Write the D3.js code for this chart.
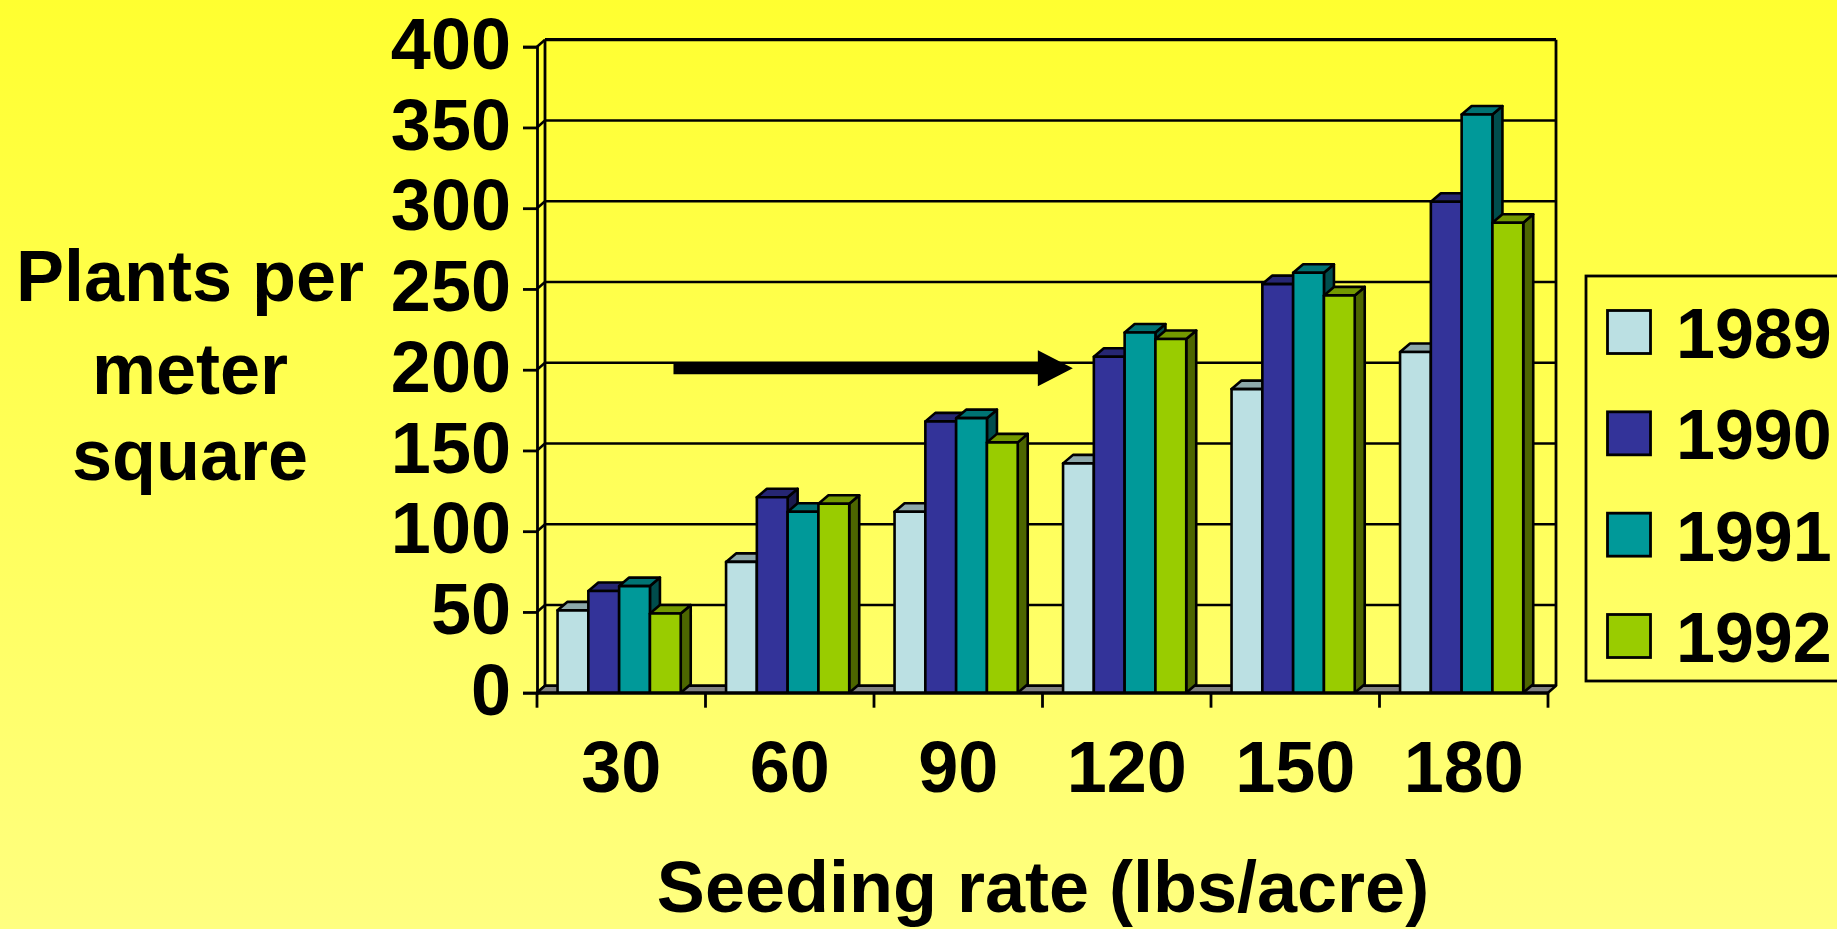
<!DOCTYPE html>
<html>
<head>
<meta charset="utf-8">
<script src="https://cdn.jsdelivr.net/npm/d3@7"></script>
<style>
  html, body { margin: 0; padding: 0; overflow: hidden; }
  svg { display: block; }
  text { font-family: "Liberation Sans", Arial, sans-serif; font-weight: bold; fill: #000; }
</style>
</head>
<body>
<svg id="chart" width="1837" height="929"></svg>
<script>
// Seeding rate categories (lbs/acre) and plant counts per year
const categories = ["30", "60", "90", "120", "150", "180"];
const years = ["1989", "1990", "1991", "1992"];
const plants1989 = [51, 81, 112, 142, 188, 211];
const plants1990 = [63, 121, 168, 208, 253, 304];
const plants1991 = [66, 112, 170, 223, 260, 358];
const plants1992 = [49, 117, 155, 219, 246, 291];
const yTicks = [0, 50, 100, 150, 200, 250, 300, 350, 400];
// Arrow annotation, in data units: level on the value axis and span in category units
const arrowLevel = 200;
const arrowFrom = 0.81;
const arrowTo = 3.18;

const seriesValues = [plants1989, plants1990, plants1991, plants1992];
const colors = ["#BBE0E3", "#333399", "#009999", "#99CC00"];

const W = 1837, H = 929;
const svg = d3.select("#chart");

// background gradient
const defs = svg.append("defs");
const grad = defs.append("linearGradient").attr("id", "bg").attr("x1", 0).attr("y1", 0).attr("x2", 0).attr("y2", 1);
grad.append("stop").attr("offset", "0%").attr("stop-color", "#FFFF30");
grad.append("stop").attr("offset", "100%").attr("stop-color", "#FFFF80");
svg.append("rect").attr("width", W).attr("height", H).attr("fill", "url(#bg)");

// scales (front plane)
const x = d3.scaleBand().domain(categories).range([537, 1548]);
const xc = d3.scaleLinear().domain([0, categories.length]).range(x.range());
const y = d3.scaleLinear().domain([0, 400]).range([692.7, 46.7]);
const x1 = d3.scaleBand().domain(years).range([x.bandwidth() * 0.122, x.bandwidth() * 0.853]);

const wall = { dx: 8, dy: -7 };     // depth of the walls
const depth = { dx: 10, dy: -8.5 }; // depth of each column

const X0 = x.range()[0], X1 = x.range()[1];
const gWall = svg.append("g").attr("stroke", "#000").attr("fill", "none");

// back wall gridlines
gWall.selectAll("line.grid").data(yTicks).join("line")
  .attr("class", "grid")
  .attr("x1", X0 + wall.dx).attr("x2", X1 + wall.dx)
  .attr("y1", d => y(d) + wall.dy).attr("y2", d => y(d) + wall.dy)
  .attr("stroke-width", d => d === 400 ? 3.2 : 2.6);
// left wall diagonals
gWall.selectAll("line.diag").data(yTicks).join("line")
  .attr("class", "diag")
  .attr("x1", X0).attr("y1", d => y(d))
  .attr("x2", X0 + wall.dx).attr("y2", d => y(d) + wall.dy)
  .attr("stroke-width", 2.5);
// wall verticals
gWall.append("line").attr("x1", X0 + wall.dx).attr("x2", X0 + wall.dx)
  .attr("y1", y(400) + wall.dy).attr("y2", y(0) + wall.dy).attr("stroke-width", 2.8);
gWall.append("line").attr("x1", X1 + wall.dx).attr("x2", X1 + wall.dx)
  .attr("y1", y(400) + wall.dy).attr("y2", y(0) + wall.dy).attr("stroke-width", 2.8);

// floor
svg.append("polygon")
  .attr("points", [[X0, y(0)], [X1, y(0)], [X1 + wall.dx, y(0) + wall.dy], [X0 + wall.dx, y(0) + wall.dy]].map(p => p.join(",")).join(" "))
  .attr("fill", "#808080").attr("stroke", "#000").attr("stroke-width", 2.5).attr("stroke-linejoin", "round");

// value axis (front) with ticks
const yAxis = d3.axisLeft(y).tickValues(yTicks).tickSize(14).tickPadding(12).tickFormat(d3.format("d"));
const gy = svg.append("g").attr("transform", `translate(${X0},0)`).call(yAxis);
gy.select(".domain").attr("stroke", "#000").attr("stroke-width", 2.8);
gy.selectAll(".tick line").attr("stroke", "#000").attr("stroke-width", 2.8);
gy.selectAll(".tick text").attr("font-size", 72).attr("dy", "0.3em").attr("x", -26);

// columns
function shade(c, k) { const o = d3.rgb(c); return d3.rgb(o.r * k, o.g * k, o.b * k).formatHex(); }
const bars = [];
categories.forEach((cat, ci) => {
  years.forEach((yr, si) => {
    bars.push({ cat, yr, si, v: seriesValues[si][ci] });
  });
});
const gBars = svg.append("g").attr("stroke", "#000").attr("stroke-width", 2.6).attr("stroke-linejoin", "round");
bars.forEach(b => {
  const xl = x(b.cat) + x1(b.yr), xr = xl + x1.bandwidth();
  const yt = y(b.v), yb = y(0);
  const g = gBars.append("g");
  // side face
  g.append("polygon").attr("points", [[xr, yb], [xr + depth.dx, yb + depth.dy], [xr + depth.dx, yt + depth.dy], [xr, yt]].map(p => p.join(",")).join(" "))
    .attr("fill", shade(colors[b.si], 0.5));
  // top face
  g.append("polygon").attr("points", [[xl, yt], [xr, yt], [xr + depth.dx, yt + depth.dy], [xl + depth.dx, yt + depth.dy]].map(p => p.join(",")).join(" "))
    .attr("fill", shade(colors[b.si], 0.75));
  // front face
  g.append("rect").attr("x", xl).attr("y", yt).attr("width", xr - xl).attr("height", yb - yt)
    .attr("fill", colors[b.si]);
});

// category axis (front)
const xAxis = d3.axisBottom(x).tickSize(0).tickPadding(48);
const gx = svg.append("g").attr("transform", `translate(0,${y(0)})`).call(xAxis);
gx.select(".domain").attr("stroke", "#000").attr("stroke-width", 3.2);
gx.selectAll(".tick text").attr("font-size", 72);
gx.selectAll("line.cat").data(d3.range(categories.length + 1)).join("line")
  .attr("class", "cat")
  .attr("x1", d => xc(d)).attr("x2", d => xc(d)).attr("y1", 0).attr("y2", 15)
  .attr("stroke", "#000").attr("stroke-width", 2.8);

// arrow annotation
const ay = y(arrowLevel) - 1.5;
const ax0 = xc(arrowFrom), ax1 = xc(arrowTo);
const headLen = 35, headHalf = 18, shaftHalf = 6;
svg.append("polygon")
  .attr("points", [
    [ax0, ay - shaftHalf], [ax1 - headLen, ay - shaftHalf], [ax1 - headLen, ay - headHalf],
    [ax1, ay], [ax1 - headLen, ay + headHalf], [ax1 - headLen, ay + shaftHalf], [ax0, ay + shaftHalf]
  ].map(p => p.join(",")).join(" "))
  .attr("fill", "#000");

// axis titles
const yTitle = svg.append("text").attr("text-anchor", "middle").attr("font-size", 72);
[["Plants per", 301], ["meter", 393.5], ["square", 480]].forEach(([t, by]) => {
  yTitle.append("tspan").attr("x", 190).attr("y", by).text(t);
});
svg.append("text").attr("x", 1043).attr("y", 912).attr("text-anchor", "middle")
  .attr("font-size", 72).text("Seeding rate (lbs/acre)");

// legend
const legend = svg.append("g");
legend.append("rect").attr("x", 1586).attr("y", 276).attr("width", 300).attr("height", 405)
  .attr("fill", "none").attr("stroke", "#000").attr("stroke-width", 2.8);
const ly = d3.scalePoint().domain(years).range([332, 636]);
years.forEach((yr, i) => {
  legend.append("rect").attr("x", 1607.5).attr("y", ly(yr) - 21.5).attr("width", 43).attr("height", 43)
    .attr("fill", colors[i]).attr("stroke", "#000").attr("stroke-width", 2.8);
  legend.append("text").attr("x", 1676).attr("y", ly(yr) + 26).attr("font-size", 70).text(yr);
});
</script>
</body>
</html>
